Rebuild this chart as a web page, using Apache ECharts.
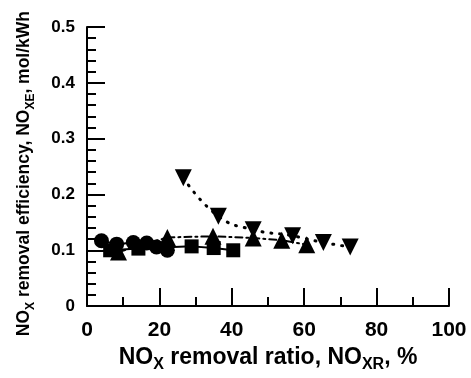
<!DOCTYPE html>
<html>
<head>
<meta charset="utf-8">
<script src="https://cdn.jsdelivr.net/npm/echarts@6/dist/echarts.min.js"></script>
<style>
  html, body { margin: 0; padding: 0; background: #fff; }
  #chart { width: 471px; height: 378px; }
</style>
</head>
<body>
<div id="chart"></div>
<script>
// NOx removal ratio (%) vs. NOx removal efficiency (mol/kWh)
const xTicks = [0, 20, 40, 60, 80, 100];
const yTicks = [0, 0.1, 0.2, 0.3, 0.4, 0.5];

const circleData = [[4.0, 0.117], [8.2, 0.111], [12.8, 0.114], [16.5, 0.113], [19.2, 0.106], [22.2, 0.100]];
const squareData = [[6.4, 0.100], [14.2, 0.103], [28.9, 0.107], [35.0, 0.104], [40.4, 0.100]];
const triUpData = [[8.7, 0.097], [22.2, 0.123], [34.8, 0.125], [45.9, 0.122], [53.8, 0.118], [60.7, 0.110]];
const triDownData = [[26.6, 0.230], [36.3, 0.161], [45.9, 0.137], [56.8, 0.126], [65.3, 0.114], [72.7, 0.106]];

const FONT = '"Liberation Sans", Arial, sans-serif';
const ink = '#000';

const chart = echarts.init(document.getElementById('chart'), null, { renderer: 'canvas' });

const axisNameRich = (size) => ({
  n: { fontSize: size, fontWeight: 'bold', fontFamily: FONT, color: ink, lineHeight: size + 8, verticalAlign: 'middle' },
  s: { fontSize: Math.round(size * 0.7), fontWeight: 'bold', fontFamily: FONT, color: ink, lineHeight: Math.round(size * 0.7), verticalAlign: 'bottom' }
});

function series(name, data, symbol, size, lineType, smooth) {
  return {
    name, type: 'line', data, symbol, symbolSize: size, smooth: !!smooth,
    itemStyle: { color: ink },
    lineStyle: { color: ink, width: lineType === 'dot' ? 3 : 2, type: lineType === 'dot' ? [1, 8] : lineType, cap: 'round' },
    z: 3
  };
}

chart.setOption({
  animation: false,
  backgroundColor: '#fff',
  grid: { left: 87, right: 22, top: 27, bottom: 64, containLabel: false },
  xAxis: {
    type: 'value', min: xTicks[0], max: xTicks[xTicks.length - 1], interval: 20,
    name: '{n|NO}{s|X}{n| removal ratio, NO}{s|XR}{n|, %}',
    nameLocation: 'middle', nameGap: 33,
    nameTextStyle: { rich: axisNameRich(23) },
    axisLine: { show: true, lineStyle: { color: ink, width: 2 } },
    axisTick: { show: true, inside: true, length: 18, lineStyle: { color: ink, width: 2 } },
    minorTick: { show: true, splitNumber: 2, length: 9, lineStyle: { color: ink, width: 2 } },
    axisLabel: { fontSize: 21, fontWeight: 'bold', fontFamily: FONT, color: ink, margin: 14 },
    splitLine: { show: false }
  },
  yAxis: {
    type: 'value', min: yTicks[0], max: yTicks[yTicks.length - 1], interval: 0.1,
    name: '{n|NO}{s|X}{n| removal efficiency, NO}{s|XE}{n|, mol/kWh}',
    nameLocation: 'middle', nameGap: 50, nameRotate: 90,
    nameTextStyle: { rich: axisNameRich(17.5), padding: [0, 14, 0, 0] },
    axisLine: { show: true, lineStyle: { color: ink, width: 2 } },
    axisTick: { show: true, inside: true, length: 18, lineStyle: { color: ink, width: 2 } },
    minorTick: { show: true, splitNumber: 5, length: 9, lineStyle: { color: ink, width: 2 } },
    axisLabel: { fontSize: 17, fontWeight: 'bold', fontFamily: FONT, color: ink, margin: 12,
      formatter: v => (v === 0 ? '0' : v.toFixed(1)) },
    splitLine: { show: false }
  },
  series: [
    series('circle', circleData, 'circle', 15, 'solid'),
    series('square', squareData, 'rect', 14, 'solid'),
    series('triangle-up', triUpData, 'triangle', 17, [7, 4, 2, 4]),
    series('triangle-down', triDownData, 'path://M0,0 L10,0 L5,9 Z', 17, 'dot', true)
  ]
});
</script>
</body>
</html>
